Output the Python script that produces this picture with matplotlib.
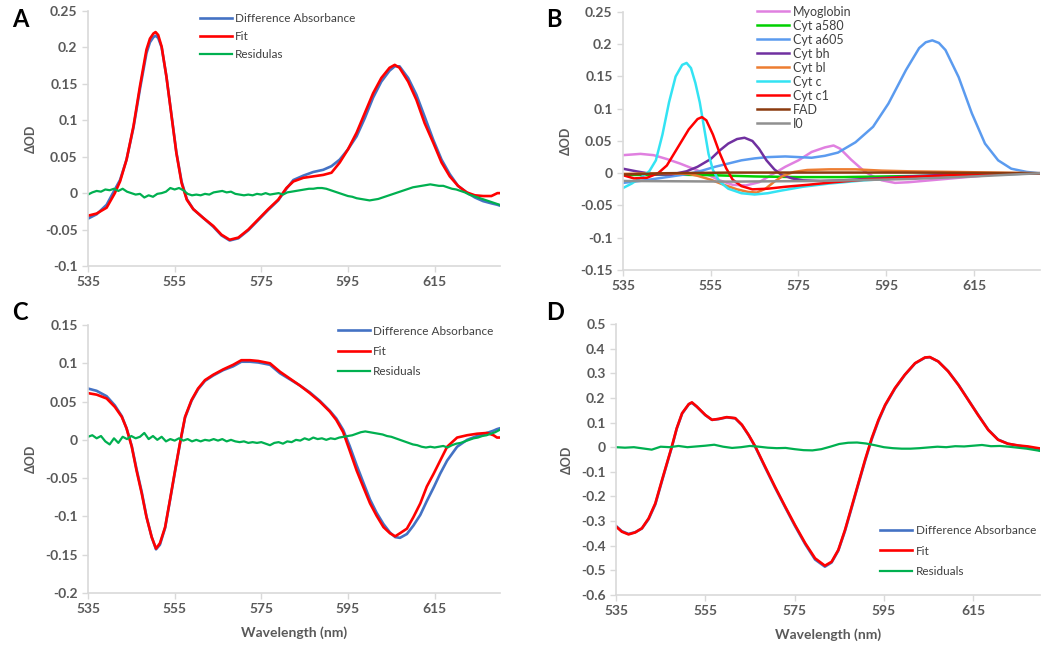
import matplotlib
matplotlib.use("Agg")
import matplotlib.pyplot as plt
from matplotlib.ticker import FuncFormatter

plt.rcParams['font.family'] = ['Lato', 'DejaVu Sans']

# ---- panel A ----
A_wl = [535.0, 537.0, 539.3, 541.2, 542.4, 543.9, 545.5, 547.0, 548.5, 549.3, 550.1, 550.6, 551.2, 552.0, 553.1,
        554.3, 555.4, 556.6, 557.8, 559.3, 561.6, 563.9, 565.8, 567.7, 569.7, 572.0, 574.3, 576.6, 578.9, 580.8,
        582.4, 584.7, 587.0, 589.3, 591.2, 593.1, 595.0, 597.0, 598.9, 600.8, 602.7, 604.6, 605.8, 606.9,
        608.9, 610.8, 612.7, 614.7, 616.6, 618.5, 620.4, 622.4, 624.3, 626.2, 628.1, 629.5, 630.0]
A_fit = [-0.031, -0.028, -0.020, 0.000, 0.016, 0.046, 0.092, 0.147, 0.197, 0.212, 0.219, 0.221, 0.217, 0.201, 0.160,
         0.105, 0.055, 0.014, -0.009, -0.022, -0.034, -0.045, -0.057, -0.064, -0.061, -0.050, -0.036, -0.022, -0.009,
         0.007, 0.016, 0.021, 0.023, 0.025, 0.028, 0.042, 0.060, 0.083, 0.110, 0.137, 0.158, 0.172, 0.176, 0.172,
         0.153, 0.128, 0.096, 0.069, 0.042, 0.023, 0.010, 0.001, -0.003, -0.004, -0.004, 0.000, 0.000]
A_diff = [-0.035, -0.029, -0.016, 0.005, 0.018, 0.046, 0.090, 0.143, 0.192, 0.207, 0.214, 0.216, 0.213, 0.200, 0.160,
          0.106, 0.056, 0.016, -0.008, -0.022, -0.034, -0.046, -0.058, -0.065, -0.062, -0.051, -0.037, -0.023, -0.010,
          0.006, 0.018, 0.024, 0.029, 0.032, 0.037, 0.046, 0.060, 0.078, 0.103, 0.131, 0.153, 0.168, 0.174, 0.174,
          0.158, 0.135, 0.105, 0.073, 0.046, 0.026, 0.010, 0.001, -0.006, -0.011, -0.014, -0.016, -0.017]
res_wl = list(range(535, 631))
A_res = [-0.002, 0.001, 0.003, 0.002, 0.005, 0.004, 0.006, 0.003, 0.006, 0.002, 0.000, -0.002, -0.001, -0.006,
         -0.003, -0.005, -0.001, 0.000, 0.002, 0.007, 0.005, 0.007, 0.004, -0.001, -0.003, -0.002, -0.003, -0.001,
         -0.002, 0.001, 0.002, 0.003, 0.001, 0.002, -0.001, -0.002, -0.003, -0.002, -0.003, -0.001, -0.002, 0.000,
         -0.002, -0.001, 0.000, -0.002, 0.001, 0.002, 0.003, 0.004, 0.005, 0.006, 0.006, 0.007, 0.007, 0.006,
         0.004, 0.002, 0.000, -0.002, -0.004, -0.005, -0.007, -0.008, -0.009, -0.010, -0.009, -0.008, -0.006, -0.004,
         -0.002, 0.000, 0.002, 0.004, 0.006, 0.008, 0.009, 0.010, 0.011, 0.012, 0.011, 0.010, 0.010, 0.008,
         0.006, 0.005, 0.003, 0.001, -0.002, -0.004, -0.006, -0.008, -0.010, -0.012, -0.014, -0.016]

# ---- panel B ----
myo_wl = [535, 539, 542, 545, 548, 551, 554, 557, 560, 563, 566, 569, 572, 575, 578, 581, 583, 584.5, 587,
          590, 592, 594, 597, 600, 605, 610, 615, 620, 625, 630]
myo = [0.028, 0.030, 0.028, 0.022, 0.015, 0.007, -0.001, -0.011, -0.018, -0.019, -0.014, -0.002, 0.010, 0.020,
       0.033, 0.040, 0.043, 0.038, 0.021, 0.003, -0.005, -0.011, -0.015, -0.014, -0.011, -0.008, -0.005, -0.002,
       -0.001, 0.0]
a580_wl = [535, 545, 555, 560, 565, 575, 585, 595, 605, 615, 630]
a580 = [-0.003, -0.002, -0.003, -0.004, -0.005, -0.006, -0.006, -0.005, -0.004, -0.002, 0.0]
a605_wl = [535, 540, 545, 550, 553, 556, 559, 562, 565, 568, 572, 575, 578, 581, 584, 588, 592, 595.5, 599.5,
           602.5, 604, 605.5, 607, 608.5, 611.5, 614.5, 617.5, 620.5, 623.5, 627, 630]
a605 = [-0.015, -0.011, -0.006, -0.001, 0.004, 0.010, 0.015, 0.020, 0.023, 0.025, 0.026, 0.025, 0.024, 0.027,
        0.032, 0.048, 0.072, 0.108, 0.160, 0.194, 0.203, 0.206, 0.202, 0.191, 0.149, 0.093, 0.046, 0.020, 0.007,
        0.002, 0.0]
bh_wl = [535, 538, 540.5, 543, 546, 549.5, 552, 555, 557, 559, 561, 562.7, 564.5, 566, 567.7, 569.5, 571, 573.5,
         576, 580, 585, 590, 600, 610, 620, 630]
bh = [0.007, 0.003, 0.000, -0.002, -0.002, 0.003, 0.010, 0.022, 0.035, 0.046, 0.053, 0.055, 0.050, 0.038, 0.020,
      0.006, -0.002, -0.008, -0.011, -0.012, -0.011, -0.009, -0.005, -0.002, -0.001, 0.0]
bl_wl = [535, 545, 550, 552, 555, 558, 561, 563.5, 565.5, 567.5, 569.5, 571.5, 574, 577, 582, 588, 594, 600,
         610, 620, 630]
bl = [-0.001, 0.000, -0.001, -0.004, -0.010, -0.018, -0.025, -0.029, -0.030, -0.024, -0.013, -0.004, 0.002,
      0.005, 0.006, 0.006, 0.004, 0.003, 0.002, 0.001, 0.0]
cc_wl = [535, 537, 539, 541, 542.5, 544, 545.5, 547, 548.5, 549.5, 550.5, 551.5, 552.5, 553.5, 554.5, 555.5, 557,
         559, 562, 565, 568, 571, 576, 582, 590, 600, 610, 620, 630]
cc = [-0.023, -0.016, -0.007, 0.003, 0.020, 0.060, 0.110, 0.150, 0.168, 0.171, 0.163, 0.140, 0.110, 0.070, 0.030,
      0.005, -0.013, -0.024, -0.031, -0.033, -0.031, -0.027, -0.021, -0.016, -0.011, -0.007, -0.004, -0.002, 0.0]
cc1_wl = [535, 537.5, 540.5, 543, 545, 547.5, 550, 552, 553, 554, 555.5, 557, 558.5, 560, 562, 564.5, 568, 572,
          577, 583, 590, 600, 610, 620, 630]
cc1 = [-0.003, -0.008, -0.007, 0.000, 0.012, 0.040, 0.068, 0.084, 0.087, 0.082, 0.060, 0.032, 0.008, -0.010,
       -0.020, -0.025, -0.024, -0.021, -0.018, -0.014, -0.010, -0.006, -0.003, -0.001, 0.0]
fad_wl = [535, 545, 560, 580, 600, 630]
fad = [-0.002, 0.000, 0.001, 0.001, 0.001, 0.0]
i0_wl = [535, 560, 580, 600, 615, 630]
i0 = [-0.012, -0.013, -0.012, -0.009, -0.005, 0.0]

# ---- panel C ----
C_wl = [535.0, 537.0, 539.3, 541.2, 542.8, 543.9, 545.1, 546.2, 547.4, 548.5, 549.7, 550.7, 551.6, 552.8, 553.9,
        555.1, 556.2, 557.4, 558.9, 560.4, 562.0, 563.9, 566.2, 568.5, 570.4, 572.4, 574.3, 577.0, 579.3, 581.6,
        583.9, 586.2, 588.5, 590.8, 592.3, 593.9, 595.4, 597.0, 598.5, 600.1, 601.6, 603.2, 604.7, 605.9, 607.0,
        608.6, 610.1, 611.7, 613.2, 614.8, 616.3, 617.9, 620.2, 622.5, 624.8, 627.1, 628.6, 629.4, 630.0]
C_fit = [0.061, 0.059, 0.054, 0.043, 0.030, 0.015, -0.009, -0.040, -0.070, -0.101, -0.127, -0.142, -0.135, -0.114,
         -0.079, -0.040, -0.005, 0.030, 0.052, 0.067, 0.078, 0.085, 0.092, 0.098, 0.104, 0.104, 0.103, 0.100, 0.089,
         0.080, 0.071, 0.061, 0.050, 0.037, 0.026, 0.010, -0.014, -0.040, -0.061, -0.083, -0.099, -0.114, -0.122,
         -0.126, -0.122, -0.116, -0.101, -0.083, -0.061, -0.044, -0.027, -0.009, 0.003, 0.006, 0.008, 0.009, 0.006,
         0.003, 0.003]
C_diff = [0.067, 0.064, 0.057, 0.045, 0.031, 0.015, -0.008, -0.038, -0.068, -0.100, -0.127, -0.143, -0.137, -0.115,
          -0.080, -0.041, -0.006, 0.029, 0.051, 0.066, 0.077, 0.084, 0.091, 0.096, 0.102, 0.102, 0.101, 0.098, 0.087,
          0.079, 0.071, 0.062, 0.051, 0.038, 0.028, 0.013, -0.008, -0.033, -0.055, -0.078, -0.095, -0.110, -0.121,
          -0.127, -0.128, -0.123, -0.112, -0.098, -0.080, -0.062, -0.044, -0.027, -0.009, 0.000, 0.005, 0.009, 0.012,
          0.014, 0.015]
C_res = [0.004, 0.006, 0.002, 0.005, -0.002, -0.006, 0.002, -0.004, 0.004, 0.001, 0.005, 0.002, 0.004, 0.009,
         0.001, 0.005, 0.000, 0.004, -0.002, 0.001, -0.001, 0.002, -0.001, 0.001, -0.002, 0.000, -0.002, 0.000,
         -0.001, 0.001, -0.001, 0.001, -0.002, 0.000, -0.002, -0.003, -0.002, -0.004, -0.003, -0.004, -0.003, -0.005,
         -0.007, -0.004, -0.003, -0.005, -0.002, -0.003, 0.000, -0.001, 0.002, 0.000, 0.003, 0.001, 0.002, 0.000,
         0.002, 0.001, 0.003, 0.004, 0.005, 0.006, 0.008, 0.010, 0.011, 0.010, 0.009, 0.008, 0.007, 0.005,
         0.004, 0.002, 0.000, -0.002, -0.004, -0.006, -0.007, -0.009, -0.010, -0.009, -0.010, -0.009, -0.008, -0.010,
         -0.007, -0.005, -0.004, -0.002, 0.000, 0.002, 0.003, 0.005, 0.006, 0.008, 0.010, 0.013]

# ---- panel D ----
D_wl = [535.0, 536.3, 537.8, 539.3, 540.8, 542.3, 543.8, 545.3, 546.4, 547.5, 548.6, 549.8, 551.3, 552.0, 553.1,
        555.0, 556.5, 558.0, 559.8, 561.7, 563.2, 564.7, 566.2, 568.4, 570.6, 572.9, 575.1, 577.4, 579.6, 581.8,
        583.3, 584.8, 586.3, 587.8, 589.3, 590.8, 592.3, 593.8, 595.3, 597.5, 599.7, 602.0, 604.2, 605.3, 607.2,
        609.4, 611.7, 613.9, 616.1, 618.4, 620.6, 622.8, 625.1, 627.3, 629.6, 630.0]
D_fit = [-0.322, -0.343, -0.354, -0.346, -0.329, -0.289, -0.228, -0.133, -0.065, 0.003, 0.077, 0.138, 0.175, 0.182,
         0.165, 0.131, 0.111, 0.115, 0.122, 0.118, 0.091, 0.050, 0.003, -0.079, -0.160, -0.241, -0.316, -0.390,
         -0.451, -0.481, -0.465, -0.417, -0.336, -0.241, -0.146, -0.051, 0.037, 0.111, 0.172, 0.240, 0.294, 0.341,
         0.364, 0.366, 0.348, 0.308, 0.253, 0.192, 0.131, 0.070, 0.030, 0.014, 0.007, 0.003, -0.004, -0.005]
D_diff = [-0.320, -0.341, -0.352, -0.345, -0.330, -0.292, -0.232, -0.137, -0.068, 0.000, 0.075, 0.136, 0.174, 0.180,
          0.164, 0.130, 0.111, 0.114, 0.121, 0.117, 0.090, 0.049, 0.001, -0.082, -0.163, -0.244, -0.320, -0.394,
          -0.456, -0.485, -0.468, -0.420, -0.340, -0.246, -0.150, -0.056, 0.032, 0.107, 0.169, 0.238, 0.293, 0.340,
          0.363, 0.365, 0.348, 0.309, 0.254, 0.193, 0.132, 0.071, 0.031, 0.014, 0.006, 0.000, -0.010, -0.014]
Dres_wl = [535, 537, 539, 541, 543, 545, 547, 549, 551, 553, 555, 557, 559, 561, 563, 565, 567, 569, 571, 573,
           575, 577, 579, 581, 583, 585, 587, 589, 591, 593, 595, 597, 599, 601, 603, 605, 607, 609, 611, 613,
           615, 617, 619, 621, 623, 625, 627, 629, 630]
D_res = [0.000, -0.002, 0.000, -0.005, -0.010, 0.002, 0.000, 0.005, 0.000, 0.003, 0.006, 0.010, 0.002, -0.003,
         0.000, 0.005, 0.002, -0.002, -0.004, -0.003, -0.008, -0.012, -0.013, -0.008, 0.002, 0.013, 0.018, 0.019,
         0.015, 0.008, 0.000, -0.004, -0.006, -0.006, -0.004, -0.001, 0.002, 0.000, 0.004, 0.003, 0.006, 0.009,
         0.004, 0.005, 0.002, -0.002, -0.006, -0.012, -0.015]

wl_ticks = [535, 555, 575, 595, 615]
BLUE = '#4472C4'
RED = '#FF0000'
GREEN = '#00B050'
GRID = '#D9D9D9'
TXT = '#595959'


def fmt(v, pos):
    s = '%g' % round(v, 3)
    return '0' if s == '-0' else s


def style(ax, ylim, ystep):
    ax.set_xlim(535, 630)
    ax.set_ylim(*ylim)
    ax.set_xticks(wl_ticks)
    n = int(round((ylim[1] - ylim[0]) / ystep))
    ax.set_yticks([ylim[0] + i * ystep for i in range(n + 1)])
    ax.yaxis.set_major_formatter(FuncFormatter(fmt))
    for s in ['top', 'right']:
        ax.spines[s].set_visible(False)
    for s in ['left', 'bottom']:
        ax.spines[s].set_color(GRID)
        ax.spines[s].set_linewidth(1.2)
    ax.tick_params(colors=GRID, length=4, width=1, labelcolor=TXT, labelsize=10)
    for lab in ax.get_xticklabels() + ax.get_yticklabels():
        lab.set_fontweight('bold')
    ax.set_ylabel('ΔOD', color=TXT, fontsize=9, fontweight='bold', labelpad=6)


fig = plt.figure(figsize=(10.5, 6.51), dpi=100)
axA = fig.add_axes([0.0838, 0.5914, 0.392, 0.3918])
axB = fig.add_axes([0.5933, 0.5853, 0.397, 0.3963])
axC = fig.add_axes([0.0838, 0.0891, 0.392, 0.4117])
axD = fig.add_axes([0.5867, 0.0860, 0.4038, 0.4163])

# A
axA.plot(A_wl, A_diff, color=BLUE, lw=1.9, label='Difference Absorbance')
axA.plot(A_wl, A_fit, color=RED, lw=1.9, label='Fit')
axA.plot(res_wl, A_res, color=GREEN, lw=1.6, label='Residulas')
style(axA, (-0.1, 0.25), 0.05)
axA.legend(loc='upper left', bbox_to_anchor=(0.272, 0.99), frameon=False, fontsize=8.5,
           handlelength=2.7, handletextpad=0.3, labelspacing=0.57, borderpad=0, borderaxespad=0,
           labelcolor='#404040')

# B
b_series = [(myo_wl, myo, '#E080E0', 'Myoglobin'),
            (a580_wl, a580, '#00D000', 'Cyt a580'),
            (a605_wl, a605, '#5B9BEF', 'Cyt a605'),
            (bh_wl, bh, '#7030A0', 'Cyt bh'),
            (bl_wl, bl, '#ED7D31', 'Cyt bl'),
            (cc_wl, cc, '#33E3F3', 'Cyt c'),
            (cc1_wl, cc1, '#FF0000', 'Cyt c1'),
            (fad_wl, fad, '#8B3A0F', 'FAD'),
            (i0_wl, i0, '#909090', 'I0')]
for xs, ys, c, name in b_series:
    axB.plot(xs, ys, color=c, lw=1.8, label=name)
style(axB, (-0.15, 0.25), 0.05)
axB.legend(loc='upper left', bbox_to_anchor=(0.321, 1.024), frameon=False, fontsize=9,
           handlelength=2.6, handletextpad=0.3, labelspacing=0.16, borderpad=0, borderaxespad=0,
           labelcolor='#404040')

# C
axC.plot(C_wl, C_diff, color=BLUE, lw=1.9, label='Difference Absorbance')
axC.plot(C_wl, C_fit, color=RED, lw=1.9, label='Fit')
axC.plot(res_wl, C_res, color=GREEN, lw=1.6, label='Residuals')
style(axC, (-0.2, 0.15), 0.05)
axC.set_xlabel('Wavelength (nm)', color=TXT, fontsize=10, fontweight='bold', labelpad=8)
axC.legend(loc='upper left', bbox_to_anchor=(0.607, 0.998), frameon=False, fontsize=8.5,
           handlelength=2.7, handletextpad=0.3, labelspacing=0.78, borderpad=0, borderaxespad=0,
           labelcolor='#404040')

# D
axD.plot(D_wl, D_diff, color=BLUE, lw=1.9, label='Difference Absorbance')
axD.plot(D_wl, D_fit, color=RED, lw=1.9, label='Fit')
axD.plot(Dres_wl, D_res, color=GREEN, lw=1.6, label='Residuals')
style(axD, (-0.6, 0.5), 0.1)
axD.set_xlabel('Wavelength (nm)', color=TXT, fontsize=10, fontweight='bold', labelpad=8)
axD.legend(loc='upper left', bbox_to_anchor=(0.623, 0.258), frameon=False, fontsize=8.5,
           handlelength=2.7, handletextpad=0.3, labelspacing=0.8, borderpad=0, borderaxespad=0,
           labelcolor='#404040')

for x, y, t in [(0.012, 0.97, 'A'), (0.52, 0.97, 'B'), (0.012, 0.52, 'C'), (0.52, 0.52, 'D')]:
    fig.text(x, y, t, fontsize=17, fontweight='bold', color='black', ha='left', va='center')

fig.savefig('out.png', dpi=100)
